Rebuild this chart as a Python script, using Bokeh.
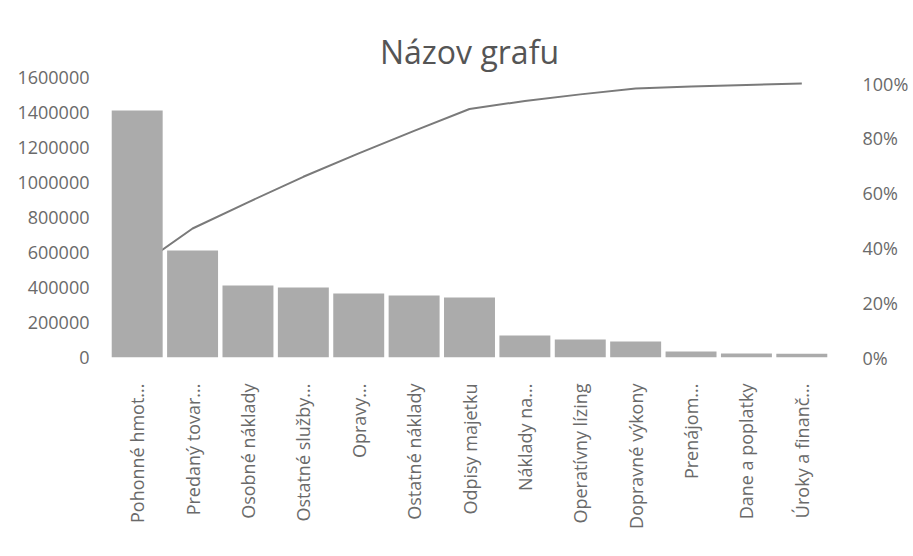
from bokeh.plotting import figure
from bokeh.models import Range1d, LinearAxis, FixedTicker, NumeralTickFormatter, ColumnDataSource
from bokeh.embed import file_html
from bokeh.resources import INLINE
import math

title_text = "Názov grafu"
categories = ["Pohonné hmot...", "Predaný tovar...", "Osobné náklady", "Ostatné služby...",
              "Opravy...", "Ostatné náklady", "Odpisy majetku", "Náklady na...",
              "Operatívny lízing", "Dopravné výkony", "Prenájom...", "Dane a poplatky",
              "Úroky a finanč..."]
values = [1411000, 611000, 411000, 400000, 366000, 354000, 343000,
          126000, 103000, 91000, 34000, 23000, 22000]
left_ticks = [0, 200000, 400000, 600000, 800000, 1000000, 1200000, 1400000, 1600000]
right_ticks = [0, 0.2, 0.4, 0.6, 0.8, 1.0]

total = sum(values)
cum = []
s = 0
for v in values:
    s += v
    cum.append(s / total)

src = ColumnDataSource(dict(cat=categories, val=values, cum=cum))

FONT = "Open Sans"
TXT = "#6a6a6a"

p = figure(x_range=categories, y_range=Range1d(0, 1600000),
           frame_width=720, frame_height=280,
           min_border_left=109, min_border_right=83, min_border_top=77, min_border_bottom=190,
           output_backend="svg", toolbar_location=None, title=title_text)
p.extra_y_ranges = {"pct": Range1d(0, 1.022)}

p.title.align = "center"
p.title.text_font = FONT
p.title.text_font_size = "32px"
p.title.text_font_style = "normal"
p.title.text_color = "#555555"
p.title.standoff = 10

# line drawn first so the bars sit on top of it
p.line(x="cat", y="cum", source=src, y_range_name="pct", line_color="#7a7a7a", line_width=2)
p.vbar(x="cat", top="val", source=src, width=0.92, fill_color="#ababab", line_color=None)

p.outline_line_color = None
p.xgrid.grid_line_color = None
p.ygrid.grid_line_color = None

ax = p.yaxis[0]
ax.ticker = FixedTicker(ticks=left_ticks)
ax.formatter = NumeralTickFormatter(format="0")
ax.axis_line_color = None
ax.major_tick_line_color = None
ax.minor_tick_line_color = None
ax.major_label_standoff = 14
ax.major_label_text_font = FONT
ax.major_label_text_font_size = "18px"
ax.major_label_text_color = TXT

rax = LinearAxis(y_range_name="pct", ticker=FixedTicker(ticks=right_ticks),
                 formatter=NumeralTickFormatter(format="0%"))
rax.axis_line_color = None
rax.major_tick_line_color = None
rax.minor_tick_line_color = None
rax.major_label_standoff = 27
rax.major_label_text_font = FONT
rax.major_label_text_font_size = "18px"
rax.major_label_text_color = TXT
p.add_layout(rax, "right")

xa = p.xaxis[0]
xa.axis_line_color = None
xa.major_tick_line_color = None
xa.major_label_orientation = math.pi / 2
xa.major_label_standoff = 20
xa.major_label_text_font = FONT
xa.major_label_text_font_size = "18px"
xa.major_label_text_color = TXT

p.x_range.range_padding = 0

open("out.html", "w").write(file_html(p, INLINE))
